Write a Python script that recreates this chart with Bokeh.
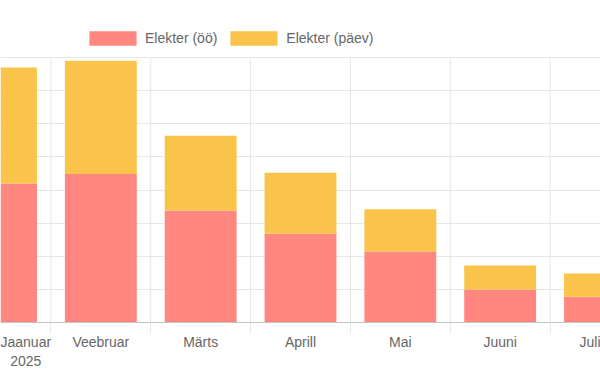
from bokeh.plotting import figure
from bokeh.models import ColumnDataSource, Range1d, FixedTicker, Legend, LegendItem
from bokeh.embed import file_html
from bokeh.resources import INLINE

months = ["Jaanuar\n2025", "Veebruar", "Märts", "Aprill", "Mai", "Juuni", "Juli"]
night = [210, 224, 169, 134, 107, 50, 39]
day = [175, 171, 113, 92, 64, 36, 35]
series = ["Elekter (öö)", "Elekter (päev)"]
colors = ["#ff8780", "#f9c449"]
y_ticks = [0, 50, 100, 150, 200, 250, 300, 350, 400]

x = list(range(len(months)))
src = ColumnDataSource(dict(x=x, night=night, day=day))
bounds = [i + 0.5 for i in range(len(months) - 1)]
grid_src = ColumnDataSource(dict(x=bounds, y0=[y_ticks[0]] * len(bounds), y1=[y_ticks[-1]] * len(bounds)))

FRAME_H = 322          # pixels from canvas top to the axis line
PLOT_H = 265           # pixels occupied by the value scale
p = figure(width=600, height=375, output_backend="svg", toolbar_location=None,
           x_range=Range1d(-0.005, len(months) - 1 + 0.005),
           y_range=Range1d(y_ticks[0], y_ticks[-1] * FRAME_H / PLOT_H),
           min_border_left=0, min_border_right=0, min_border_top=0, min_border_bottom=53)
p.outline_line_color = None
p.background_fill_color = "white"
p.border_fill_color = "white"

p.segment(x0="x", x1="x", y0="y0", y1="y1", source=grid_src, line_color="#e6e6e6",
          line_width=1, level="underlay")
rs = p.vbar_stack(["night", "day"], x="x", width=0.72, color=colors, line_color=None, source=src)

p.yaxis.visible = False
p.xgrid.visible = False
p.ygrid.ticker = FixedTicker(ticks=y_ticks)
p.ygrid.grid_line_color = "#e6e6e6"
p.ygrid.grid_line_width = 1

ax = p.xaxis[0]
ax.ticker = FixedTicker(ticks=x, minor_ticks=bounds)
ax.major_label_overrides = {i: m for i, m in enumerate(months)}
ax.major_tick_line_color = None
ax.major_tick_out = 0
ax.major_tick_in = 0
ax.minor_tick_out = 11
ax.minor_tick_in = 0
ax.minor_tick_line_color = "#e6e6e6"
ax.axis_line_color = "#c4c4c4"
ax.major_label_standoff = 0
ax.major_label_text_font = "Liberation Sans"
ax.major_label_text_font_size = "14px"
ax.major_label_text_color = "#666666"

legend = Legend(items=[LegendItem(label=series[i], renderers=[rs[i]]) for i in range(2)],
                orientation="horizontal", location=(83, 275),
                glyph_width=59, glyph_height=18, label_height=14,
                label_standoff=3, spacing=7, padding=0, margin=0,
                border_line_color=None, background_fill_alpha=0,
                label_text_font="Liberation Sans", label_text_font_size="14px",
                label_text_color="#666666")
p.add_layout(legend, "center")

open("out.html", "w").write(file_html(p, INLINE))
